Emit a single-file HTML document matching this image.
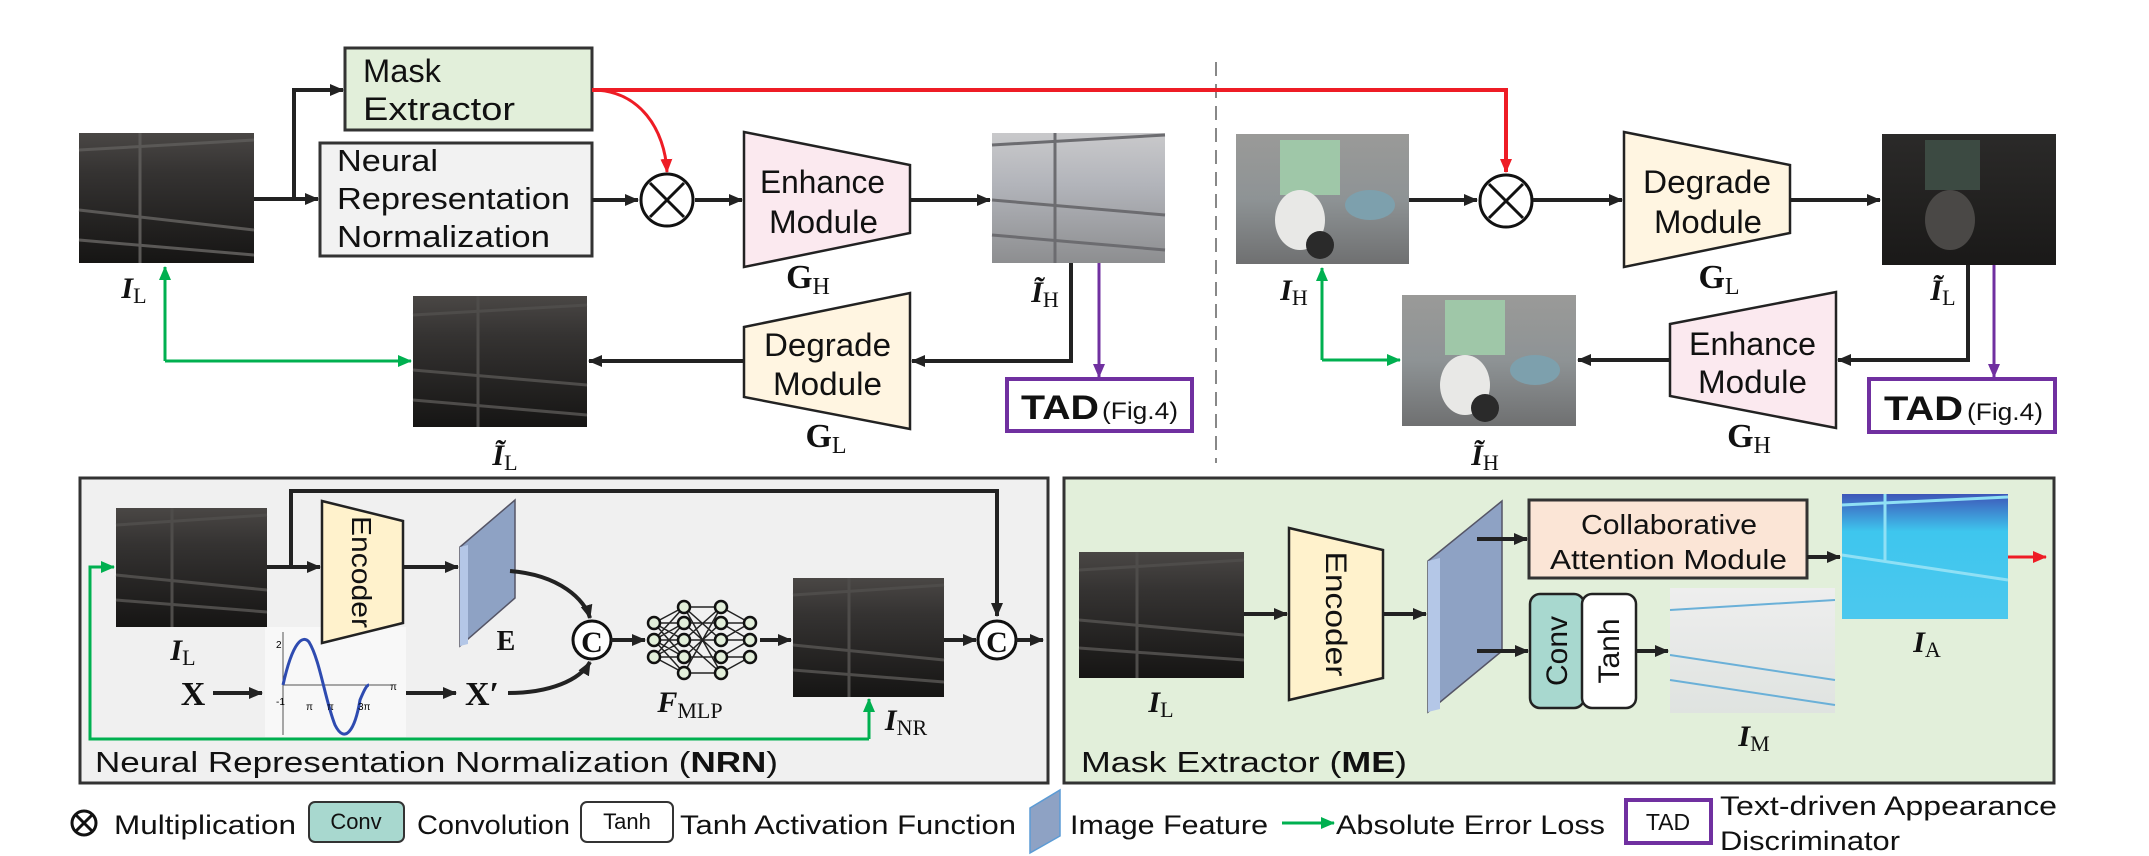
<!DOCTYPE html>
<html><head><meta charset="utf-8"><style>
html,body{margin:0;padding:0;background:#fff;}
svg{display:block;}
.t{font-family:"Liberation Sans Narrow","Liberation Sans",sans-serif;fill:#111;}
.m{font-family:"Liberation Serif",serif;font-style:italic;font-weight:bold;fill:#111;}
.mb{font-family:"Liberation Serif",serif;font-weight:bold;fill:#111;}
.s{font-family:"Liberation Serif",serif;font-style:normal;font-weight:normal;}
</style></head><body>
<svg width="2149" height="856" viewBox="0 0 2149 856" xmlns="http://www.w3.org/2000/svg">
<defs>
<marker id="ar" markerWidth="14" markerHeight="12" refX="13" refY="6" orient="auto" markerUnits="userSpaceOnUse"><path d="M0,0 L14,6 L0,12 z" fill="#ee1c25"/></marker>
<marker id="ag" markerWidth="14" markerHeight="12" refX="13" refY="6" orient="auto" markerUnits="userSpaceOnUse"><path d="M0,0 L14,6 L0,12 z" fill="#00b050"/></marker>
<marker id="ap" markerWidth="14" markerHeight="12" refX="13" refY="6" orient="auto" markerUnits="userSpaceOnUse"><path d="M0,0 L14,6 L0,12 z" fill="#7030a0"/></marker>
<marker id="ak" markerWidth="14" markerHeight="12" refX="13" refY="6" orient="auto" markerUnits="userSpaceOnUse"><path d="M0,0 L14,6 L0,12 z" fill="#222"/></marker>
<linearGradient id="dark" x1="0" y1="0" x2="0" y2="1"><stop offset="0" stop-color="#4a4745"/><stop offset="0.3" stop-color="#353332"/><stop offset="1" stop-color="#161514"/></linearGradient>
<linearGradient id="light" x1="0" y1="0" x2="0" y2="1"><stop offset="0" stop-color="#c9c9cb"/><stop offset="0.4" stop-color="#b2b4ba"/><stop offset="1" stop-color="#8d8e90"/></linearGradient>
<linearGradient id="moto" x1="0" y1="0" x2="0" y2="1"><stop offset="0" stop-color="#9a9a98"/><stop offset="0.5" stop-color="#8e9395"/><stop offset="1" stop-color="#6f7071"/></linearGradient>
<linearGradient id="motod" x1="0" y1="0" x2="0" y2="1"><stop offset="0" stop-color="#2b2a29"/><stop offset="1" stop-color="#1a1918"/></linearGradient>
<linearGradient id="cyan" x1="0" y1="0" x2="0" y2="1"><stop offset="0" stop-color="#3e56b8"/><stop offset="0.3" stop-color="#3ec6ee"/><stop offset="1" stop-color="#4cc8ee"/></linearGradient>
<linearGradient id="mask" x1="0" y1="0" x2="0" y2="1"><stop offset="0" stop-color="#eeeeee"/><stop offset="1" stop-color="#dfe3e0"/></linearGradient>
</defs>

<line x1="1216" y1="62" x2="1216" y2="463" stroke="#888" stroke-width="2" stroke-dasharray="14,8"/>

<!-- ===== Top left ===== -->
<rect x="79" y="133" width="175" height="130" fill="url(#dark)"/>
<path d="M79,150 L254,140 M79,210 L254,230 M79,240 L254,255 M140,133 L140,263" stroke="#5a5856" stroke-width="3" fill="none"/>
<rect x="345" y="48" width="247" height="82" fill="#e2efda" stroke="#333" stroke-width="3"/>
<text class="t" x="363" y="82" font-size="32" textLength="78" lengthAdjust="spacingAndGlyphs">Mask</text>
<text class="t" x="363" y="120" font-size="32" textLength="152" lengthAdjust="spacingAndGlyphs">Extractor</text>
<rect x="320" y="143" width="272" height="113" fill="#f2f2f2" stroke="#333" stroke-width="3"/>
<text class="t" x="337" y="171" font-size="31" textLength="101" lengthAdjust="spacingAndGlyphs">Neural</text>
<text class="t" x="337" y="209" font-size="31" textLength="233" lengthAdjust="spacingAndGlyphs">Representation</text>
<text class="t" x="337" y="247" font-size="31" textLength="213" lengthAdjust="spacingAndGlyphs">Normalization</text>
<path d="M254,199 L318,199" stroke="#222" stroke-width="4" marker-end="url(#ak)"/>
<path d="M294,199 L294,90 L343,90" stroke="#222" stroke-width="4" fill="none" marker-end="url(#ak)"/>
<path d="M592,200 L638,200" stroke="#222" stroke-width="4" marker-end="url(#ak)"/>
<circle cx="667" cy="200" r="26" fill="#fff" stroke="#111" stroke-width="3"/>
<path d="M650,183 L684,217 M684,183 L650,217" stroke="#111" stroke-width="3"/>
<path d="M695,200 L742,200" stroke="#222" stroke-width="4" marker-end="url(#ak)"/>
<path d="M592,90 C640,90 665,130 667,172" stroke="#ee1c25" stroke-width="3" fill="none" marker-end="url(#ar)"/>
<path d="M592,90 L1506,90 L1506,172" stroke="#ee1c25" stroke-width="4" fill="none" marker-end="url(#ar)"/>
<polygon points="744,132 910,165 910,233 744,267" fill="#fbe9ef" stroke="#222" stroke-width="2.5"/>
<text class="t" x="760" y="193" font-size="32" textLength="125" lengthAdjust="spacingAndGlyphs">Enhance</text>
<text class="t" x="769" y="233" font-size="32" textLength="109" lengthAdjust="spacingAndGlyphs">Module</text>
<text class="mb" x="808" y="288" font-size="34" text-anchor="middle">G<tspan class="s" font-size="24" dy="6">H</tspan></text>
<path d="M910,200 L990,200" stroke="#222" stroke-width="4" marker-end="url(#ak)"/>
<rect x="992" y="133" width="173" height="130" fill="url(#light)"/>
<path d="M992,145 L1165,135 M992,200 L1165,215 M992,235 L1165,250 M1055,133 L1055,263" stroke="#6c6c70" stroke-width="3" fill="none"/>
<text class="m" x="1045" y="302" font-size="30" text-anchor="middle">Ĩ<tspan class="s" font-size="22" dy="5">H</tspan></text>
<path d="M1071,263 L1071,361 L912,361" stroke="#222" stroke-width="4" fill="none" marker-end="url(#ak)"/>
<path d="M1099,263 L1099,377" stroke="#7030a0" stroke-width="3" marker-end="url(#ap)"/>
<rect x="1007" y="379" width="185" height="52" fill="#fff" stroke="#7030a0" stroke-width="4"/>
<text class="t" x="1021" y="419" font-size="34" font-weight="bold" textLength="78" lengthAdjust="spacingAndGlyphs">TAD</text>
<text class="t" x="1102" y="419" font-size="24" textLength="76" lengthAdjust="spacingAndGlyphs">(Fig.4)</text>
<polygon points="744,327 910,293 910,429 744,397" fill="#fff5e1" stroke="#222" stroke-width="2.5"/>
<text class="t" x="764" y="356" font-size="32" textLength="127" lengthAdjust="spacingAndGlyphs">Degrade</text>
<text class="t" x="773" y="395" font-size="32" textLength="109" lengthAdjust="spacingAndGlyphs">Module</text>
<text class="mb" x="826" y="447" font-size="34" text-anchor="middle">G<tspan class="s" font-size="24" dy="6">L</tspan></text>
<path d="M744,361 L589,361" stroke="#222" stroke-width="4" marker-end="url(#ak)"/>
<rect x="413" y="296" width="174" height="131" fill="url(#dark)"/>
<path d="M413,315 L587,305 M413,370 L587,385 M413,400 L587,415 M478,296 L478,427" stroke="#4e4c4a" stroke-width="3" fill="none"/>
<text class="m" x="505" y="465" font-size="30" text-anchor="middle">Ĩ<tspan class="s" font-size="22" dy="5">L</tspan></text>
<path d="M165,361 L165,267" stroke="#00b050" stroke-width="3" marker-end="url(#ag)"/>
<path d="M165,361 L411,361" stroke="#00b050" stroke-width="3" marker-end="url(#ag)"/>
<text class="m" x="134" y="298" font-size="30" text-anchor="middle">I<tspan class="s" font-size="22" dy="5">L</tspan></text>

<!-- ===== Top right ===== -->
<rect x="1236" y="134" width="173" height="130" fill="url(#moto)"/>
<rect x="1280" y="140" width="60" height="55" fill="#9fc7a8"/>
<ellipse cx="1300" cy="220" rx="25" ry="30" fill="#e8e8e6"/>
<ellipse cx="1370" cy="205" rx="25" ry="15" fill="#7da0ad"/>
<circle cx="1320" cy="245" r="14" fill="#2a2a2a"/>
<text class="m" x="1294" y="300" font-size="30" text-anchor="middle">I<tspan class="s" font-size="22" dy="5">H</tspan></text>
<path d="M1409,200 L1477,200" stroke="#222" stroke-width="4" marker-end="url(#ak)"/>
<circle cx="1506" cy="201" r="26" fill="#fff" stroke="#111" stroke-width="3"/>
<path d="M1489,184 L1523,218 M1523,184 L1489,218" stroke="#111" stroke-width="3"/>
<path d="M1533,200 L1622,200" stroke="#222" stroke-width="4" marker-end="url(#ak)"/>
<polygon points="1624,132 1790,165 1790,233 1624,267" fill="#fff5e1" stroke="#222" stroke-width="2.5"/>
<text class="t" x="1643" y="193" font-size="32" textLength="128" lengthAdjust="spacingAndGlyphs">Degrade</text>
<text class="t" x="1654" y="233" font-size="32" textLength="108" lengthAdjust="spacingAndGlyphs">Module</text>
<text class="mb" x="1719" y="288" font-size="34" text-anchor="middle">G<tspan class="s" font-size="24" dy="6">L</tspan></text>
<path d="M1790,200 L1880,200" stroke="#222" stroke-width="4" marker-end="url(#ak)"/>
<rect x="1882" y="134" width="174" height="131" fill="url(#motod)"/>
<rect x="1925" y="140" width="55" height="50" fill="#3c4a42"/>
<ellipse cx="1950" cy="220" rx="25" ry="30" fill="#4a4846"/>
<text class="m" x="1943" y="300" font-size="30" text-anchor="middle">Ĩ<tspan class="s" font-size="22" dy="5">L</tspan></text>
<path d="M1968,265 L1968,360 L1838,360" stroke="#222" stroke-width="4" fill="none" marker-end="url(#ak)"/>
<path d="M1994,265 L1994,377" stroke="#7030a0" stroke-width="3" marker-end="url(#ap)"/>
<rect x="1869" y="379" width="186" height="53" fill="#fff" stroke="#7030a0" stroke-width="4"/>
<text class="t" x="1884" y="420" font-size="34" font-weight="bold" textLength="79" lengthAdjust="spacingAndGlyphs">TAD</text>
<text class="t" x="1967" y="420" font-size="24" textLength="76" lengthAdjust="spacingAndGlyphs">(Fig.4)</text>
<polygon points="1670,324 1836,292 1836,428 1670,396" fill="#fbe9ef" stroke="#222" stroke-width="2.5"/>
<text class="t" x="1689" y="355" font-size="32" textLength="127" lengthAdjust="spacingAndGlyphs">Enhance</text>
<text class="t" x="1698" y="393" font-size="32" textLength="109" lengthAdjust="spacingAndGlyphs">Module</text>
<text class="mb" x="1749" y="447" font-size="34" text-anchor="middle">G<tspan class="s" font-size="24" dy="6">H</tspan></text>
<path d="M1670,360 L1578,360" stroke="#222" stroke-width="4" marker-end="url(#ak)"/>
<rect x="1402" y="295" width="174" height="131" fill="url(#moto)"/>
<rect x="1445" y="300" width="60" height="55" fill="#9fc7a8"/>
<ellipse cx="1465" cy="385" rx="25" ry="30" fill="#e8e8e6"/>
<ellipse cx="1535" cy="370" rx="25" ry="15" fill="#7da0ad"/>
<circle cx="1485" cy="408" r="14" fill="#2a2a2a"/>
<text class="m" x="1485" y="465" font-size="30" text-anchor="middle">Ĩ<tspan class="s" font-size="22" dy="5">H</tspan></text>
<path d="M1322,360 L1322,268" stroke="#00b050" stroke-width="3" marker-end="url(#ag)"/>
<path d="M1322,360 L1400,360" stroke="#00b050" stroke-width="3" marker-end="url(#ag)"/>

<!-- ===== NRN panel ===== -->
<rect x="80" y="478" width="968" height="305" fill="#f0f0f0" stroke="#333" stroke-width="3"/>
<rect x="116" y="508" width="151" height="119" fill="url(#dark)"/>
<path d="M116,525 L267,515 M116,575 L267,590 M116,600 L267,612 M172,508 L172,627" stroke="#4e4c4a" stroke-width="3" fill="none"/>
<path d="M267,567 L320,567" stroke="#222" stroke-width="4" marker-end="url(#ak)"/>
<path d="M291,567 L291,491 L997,491 L997,616" stroke="#222" stroke-width="4" fill="none" marker-end="url(#ak)"/>
<!-- sine plot (behind encoder) -->
<rect x="265" y="627" width="141" height="110" fill="#f8f8f8"/>
<line x1="283" y1="632" x2="283" y2="735" stroke="#555" stroke-width="1"/>
<line x1="283" y1="685" x2="393" y2="685" stroke="#555" stroke-width="1"/>
<path d="M283,685 C293,640 303,635 309,642 C320,660 325,700 335,725 C345,745 355,730 360,700 C365,688 367,685 369,685" stroke="#2e4bb0" stroke-width="3" fill="none"/>
<text x="276" y="648" font-size="10" font-family="Liberation Sans">2</text><text x="276" y="705" font-size="10" font-family="Liberation Sans">-1</text>
<text x="306" y="710" font-size="10" font-family="Liberation Sans">π</text><text x="327" y="710" font-size="10" font-family="Liberation Sans">π</text><text x="358" y="710" font-size="10" font-family="Liberation Sans">3π</text><text x="390" y="690" font-size="10" font-family="Liberation Sans">π</text>
<polygon points="322,501 403,521 403,623 322,643" fill="#fff2cc" stroke="#222" stroke-width="2.5"/>
<text class="t" x="362" y="572" font-size="28" text-anchor="middle" transform="rotate(90 362 572)" dy="10" textLength="112" lengthAdjust="spacingAndGlyphs">Encoder</text>
<path d="M403,567 L458,567" stroke="#222" stroke-width="4" marker-end="url(#ak)"/>
<polygon points="460,547 515,500 515,598 460,646" fill="#8ea2c4" stroke="#556" stroke-width="1.5"/>
<polygon points="460,547 468,545 468,644 460,646" fill="#b4c7e7"/>
<text class="mb" x="506" y="650" font-size="28" text-anchor="middle">E</text>
<path d="M510,571 C560,575 585,600 590,618" stroke="#222" stroke-width="4" fill="none" marker-end="url(#ak)"/>
<circle cx="592" cy="640" r="19" fill="#fff" stroke="#111" stroke-width="3"/>
<text class="mb" x="592" y="652" font-size="30" text-anchor="middle">C</text>
<path d="M611,640 L645,640" stroke="#222" stroke-width="4" marker-end="url(#ak)"/>
<g stroke="#222" stroke-width="1.5">
<path d="M654,623 L684,607 M654,623 L684,623 M654,623 L684,640 M654,623 L684,657 M654,640 L684,607 M654,640 L684,623 M654,640 L684,640 M654,640 L684,657 M654,640 L684,673 M654,657 L684,623 M654,657 L684,640 M654,657 L684,657 M654,657 L684,673
M684,607 L721,607 M684,607 L721,640 M684,607 L721,673 M684,623 L721,657 M684,623 L721,623 M684,640 L721,607 M684,640 L721,673 M684,657 L721,623 M684,673 L721,607 M684,673 L721,673 M684,657 L721,657 M684,640 L721,640
M721,607 L750,623 M721,623 L750,640 M721,640 L750,640 M721,657 L750,657 M721,673 L750,657 M721,623 L750,623 M721,657 L750,640 M721,640 L750,623"/>
</g>
<g fill="#e2efda" stroke="#111" stroke-width="2.5">
<circle cx="654" cy="623" r="6"/><circle cx="654" cy="640" r="6"/><circle cx="654" cy="657" r="6"/>
<circle cx="684" cy="607" r="6"/><circle cx="684" cy="623" r="6"/><circle cx="684" cy="640" r="6"/><circle cx="684" cy="657" r="6"/><circle cx="684" cy="673" r="6"/>
<circle cx="721" cy="607" r="6"/><circle cx="721" cy="623" r="6"/><circle cx="721" cy="640" r="6"/><circle cx="721" cy="657" r="6"/><circle cx="721" cy="673" r="6"/>
<circle cx="750" cy="623" r="6"/><circle cx="750" cy="640" r="6"/><circle cx="750" cy="657" r="6"/>
</g>
<text class="m" x="690" y="712" font-size="30" text-anchor="middle">F<tspan class="s" font-size="22" dy="6">MLP</tspan></text>
<path d="M760,640 L791,640" stroke="#222" stroke-width="4" marker-end="url(#ak)"/>
<rect x="793" y="578" width="151" height="119" fill="url(#dark)"/>
<path d="M793,595 L944,585 M793,645 L944,660 M793,670 L944,682 M849,578 L849,697" stroke="#4e4c4a" stroke-width="3" fill="none"/>
<path d="M944,640 L976,640" stroke="#222" stroke-width="4" marker-end="url(#ak)"/>
<circle cx="997" cy="640" r="19" fill="#fff" stroke="#111" stroke-width="3"/>
<text class="mb" x="997" y="652" font-size="30" text-anchor="middle">C</text>
<path d="M1016,640 L1043,640" stroke="#222" stroke-width="4" marker-end="url(#ak)"/>
<text class="m" x="183" y="660" font-size="30" text-anchor="middle">I<tspan class="s" font-size="22" dy="5">L</tspan></text>
<text class="mb" x="193" y="705" font-size="34" text-anchor="middle">X</text>
<path d="M213,693 L262,693" stroke="#222" stroke-width="4" marker-end="url(#ak)"/>
<path d="M406,693 L456,693" stroke="#222" stroke-width="4" marker-end="url(#ak)"/>
<text class="mb" x="482" y="705" font-size="34" text-anchor="middle">X′</text>
<path d="M508,693 C550,693 580,680 590,662" stroke="#222" stroke-width="4" fill="none" marker-end="url(#ak)"/>
<text class="m" x="906" y="730" font-size="30" text-anchor="middle">I<tspan class="s" font-size="22" dy="5">NR</tspan></text>
<path d="M869,739 L869,699" stroke="#00b050" stroke-width="3" marker-end="url(#ag)"/>
<path d="M869,739 L90,739 L90,567 L114,567" stroke="#00b050" stroke-width="3" fill="none" marker-end="url(#ag)"/>
<text class="t" x="95" y="772" font-size="29" textLength="683" lengthAdjust="spacingAndGlyphs">Neural Representation Normalization (<tspan font-weight="bold">NRN</tspan>)</text>

<!-- ===== ME panel ===== -->
<rect x="1064" y="478" width="990" height="305" fill="#e2efda" stroke="#333" stroke-width="3"/>
<rect x="1079" y="552" width="165" height="126" fill="url(#dark)"/>
<path d="M1079,570 L1244,560 M1079,620 L1244,635 M1079,648 L1244,660 M1137,552 L1137,678" stroke="#4e4c4a" stroke-width="3" fill="none"/>
<text class="m" x="1161" y="712" font-size="30" text-anchor="middle">I<tspan class="s" font-size="22" dy="5">L</tspan></text>
<path d="M1244,614 L1287,614" stroke="#222" stroke-width="4" marker-end="url(#ak)"/>
<polygon points="1289,528 1383,550 1383,678 1289,700" fill="#fff2cc" stroke="#222" stroke-width="2.5"/>
<text class="t" x="1336" y="614" font-size="30" text-anchor="middle" transform="rotate(90 1336 614)" dy="10" textLength="125" lengthAdjust="spacingAndGlyphs">Encoder</text>
<path d="M1383,614 L1426,614" stroke="#222" stroke-width="4" marker-end="url(#ak)"/>
<polygon points="1428,561 1502,501 1502,651 1428,712" fill="#8ea2c4" stroke="#556" stroke-width="1.5"/>
<polygon points="1428,561 1440,558 1440,709 1428,712" fill="#b4c7e7"/>
<path d="M1477,539 L1527,539" stroke="#222" stroke-width="4" marker-end="url(#ak)"/>
<path d="M1477,651 L1528,651" stroke="#222" stroke-width="4" marker-end="url(#ak)"/>
<rect x="1529" y="500" width="278" height="78" fill="#fbe5d6" stroke="#333" stroke-width="3"/>
<text class="t" x="1581" y="534" font-size="28" textLength="176" lengthAdjust="spacingAndGlyphs">Collaborative</text>
<text class="t" x="1550" y="569" font-size="28" textLength="237" lengthAdjust="spacingAndGlyphs">Attention Module</text>
<path d="M1807,557 L1840,557" stroke="#222" stroke-width="4" marker-end="url(#ak)"/>
<rect x="1842" y="494" width="166" height="125" fill="url(#cyan)"/>
<path d="M1842,505 L2008,497 M1842,555 L2008,580 M1885,494 L1885,560" stroke="#8fe0f5" stroke-width="3" fill="none"/>
<path d="M2008,557 L2046,557" stroke="#ee1c25" stroke-width="3" marker-end="url(#ar)"/>
<text class="m" x="1927" y="652" font-size="30" text-anchor="middle">I<tspan class="s" font-size="22" dy="5">A</tspan></text>
<rect x="1530" y="594" width="54" height="114" rx="10" fill="#a8d8cf" stroke="#222" stroke-width="2.5"/>
<rect x="1582" y="594" width="54" height="114" rx="10" fill="#fff" stroke="#222" stroke-width="2.5"/>
<text class="t" x="1557" y="651" font-size="30" text-anchor="middle" transform="rotate(-90 1557 651)" dy="10">Conv</text>
<text class="t" x="1609" y="651" font-size="30" text-anchor="middle" transform="rotate(-90 1609 651)" dy="10">Tanh</text>
<path d="M1636,651 L1668,651" stroke="#222" stroke-width="4" marker-end="url(#ak)"/>
<rect x="1670" y="588" width="165" height="125" fill="url(#mask)"/>
<path d="M1670,610 L1835,600 M1670,655 L1835,680 M1670,680 L1835,705" stroke="#6ab0d8" stroke-width="2" fill="none"/>
<text class="m" x="1754" y="746" font-size="30" text-anchor="middle">I<tspan class="s" font-size="22" dy="5">M</tspan></text>
<text class="t" x="1081" y="772" font-size="29" textLength="326" lengthAdjust="spacingAndGlyphs">Mask Extractor (<tspan font-weight="bold">ME</tspan>)</text>

<!-- ===== Legend ===== -->
<circle cx="84" cy="823" r="12" fill="none" stroke="#111" stroke-width="3"/>
<path d="M76,815 L92,831 M92,815 L76,831" stroke="#111" stroke-width="3"/>
<text class="t" x="114" y="834" font-size="27" textLength="182" lengthAdjust="spacingAndGlyphs">Multiplication</text>
<rect x="309" y="802" width="95" height="40" rx="6" fill="#a8d8cf" stroke="#333" stroke-width="2"/>
<text class="t" x="356" y="829" font-size="22" text-anchor="middle">Conv</text>
<text class="t" x="417" y="834" font-size="27" textLength="153" lengthAdjust="spacingAndGlyphs">Convolution</text>
<rect x="581" y="802" width="92" height="40" rx="6" fill="#fff" stroke="#333" stroke-width="2"/>
<text class="t" x="627" y="829" font-size="22" text-anchor="middle">Tanh</text>
<text class="t" x="680" y="834" font-size="27" textLength="336" lengthAdjust="spacingAndGlyphs">Tanh Activation Function</text>
<polygon points="1030,808 1060,790 1060,836 1030,853" fill="#8ea2c4" stroke="#5b9bd5" stroke-width="1.5"/>
<text class="t" x="1070" y="834" font-size="27" textLength="198" lengthAdjust="spacingAndGlyphs">Image Feature</text>
<path d="M1282,823 L1334,823" stroke="#00b050" stroke-width="3" marker-end="url(#ag)"/>
<text class="t" x="1336" y="834" font-size="27" textLength="269" lengthAdjust="spacingAndGlyphs">Absolute Error Loss</text>
<rect x="1626" y="800" width="85" height="43" fill="#fff" stroke="#7030a0" stroke-width="4"/>
<text class="t" x="1668" y="830" font-size="23" text-anchor="middle">TAD</text>
<text class="t" x="1720" y="815" font-size="27" textLength="337" lengthAdjust="spacingAndGlyphs">Text-driven  Appearance</text>
<text class="t" x="1720" y="850" font-size="27" textLength="180" lengthAdjust="spacingAndGlyphs">Discriminator</text>
</svg>
</body></html>
